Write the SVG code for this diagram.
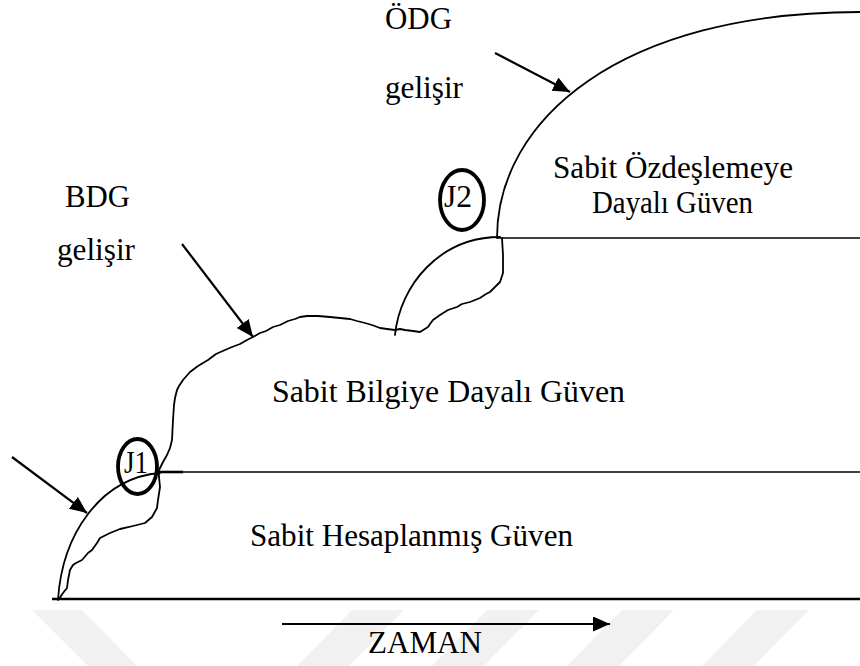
<svg xmlns="http://www.w3.org/2000/svg" width="860" height="666" viewBox="0 0 860 666">
  <defs>
    <marker id="head" markerUnits="userSpaceOnUse" markerWidth="18" markerHeight="16" refX="17" refY="7.5" orient="auto">
      <path d="M0,0 L17,7.5 L0,15 Z" fill="#000"/>
    </marker>
    <style>
      .ln { fill: none; stroke: #000; stroke-width: 1.8; stroke-linejoin: round; stroke-linecap: round; }
      .thin { fill: none; stroke: #000; stroke-width: 1.6; stroke-linecap: butt; }
      .ring { fill: none; stroke: #000; stroke-width: 3.8; }
      .arrow { fill: none; stroke: #000; stroke-width: 2.2; marker-end: url(#head); }
      .wm { fill: #f1f1f1; }
    </style>
  </defs>

  <rect width="860" height="666" fill="#fff"/>

  <!-- faint background stripes along the bottom edge -->
  <g id="watermark">
    <polygon class="wm" points="32,610 82,610 137,666 88,666"/>
    <polygon class="wm" points="352,610 404,610 349,666 297,666"/>
    <polygon class="wm" points="487,610 539,610 484,666 432,666"/>
    <polygon class="wm" points="622,610 674,610 619,666 567,666"/>
    <polygon class="wm" points="757,610 809,610 754,666 702,666"/>
  </g>

  <!-- time axis and level lines -->
  <g id="axis">
    <line x1="52" y1="599" x2="860" y2="599" stroke="#000" stroke-width="2.4"/>
    <line class="thin" x1="157" y1="472" x2="860" y2="472"/>
    <line x1="157" y1="472" x2="183" y2="472" stroke="#000" stroke-width="2.6"/>
    <line class="thin" x1="497" y1="238" x2="860" y2="238"/>
  </g>

  <g font-family="Liberation Serif, DejaVu Serif, serif" font-size="32" fill="#000">
  <!-- calculus-based trust: smooth arc from the origin up to J1 -->
  <g id="calculus-trust">
    <path class="ln" d="M58,600 C62,535 100,478 160,473"/>
    <text x="250" y="546" textLength="323" lengthAdjust="spacingAndGlyphs">Sabit Hesaplanmış Güven</text>
  </g>

  <!-- knowledge-based trust: irregular growth line -->
  <g id="knowledge-trust">
    <path class="ln" d="M502,238 L503,255 L503,273 L500,282 L495,287 L490,292 L486,294 L480,298 L470,302 L462,304 L457,307 L448,310 L440,315 L433,320 L430,324 L428,327 L420,332 L413,331 L405,330 L400,329 L395,330 L387,329 L380,328 L372,325 L365,323 L357,321 L350,319 L340,318 L330,317 L318,316 L307,316 L300,317 L295,319 L288,321 L280,325 L273,327 L266,331 L260,333 L253,337 L247,340 L240,344 L232,347 L225,350 L216,354 L208,360 L198,366 L190,372 L183,380 L179,386 L177,390 L175,398 L174,405 L173,420 L172,440 L170,448 L167,455 L163,462 L159,470 L159,477 L160,487 L158,500 L157,508 L152,517 L145,523 L133,526 L120,529 L110,533 L100,538 L97,543 L92,550 L88,553 L82,560 L76,563 L73,565 L70,570 L68,580 L67,588 L63,593 L59,599"/>
    <text x="272" y="402" textLength="353" lengthAdjust="spacingAndGlyphs">Sabit Bilgiye Dayalı Güven</text>
  </g>

  <!-- J2 transition arc -->
  <g id="j2-arc">
    <path class="ln" d="M395,335 C400,285 440,237 500,237"/>
  </g>

  <!-- identification-based trust: large dome -->
  <g id="identification-trust">
    <path class="ln" d="M497,238 C497,120 620,12 860,12"/>
    <text x="553" y="178" textLength="240" lengthAdjust="spacingAndGlyphs">Sabit Özdeşlemeye</text>
    <text x="592" y="213" textLength="161" lengthAdjust="spacingAndGlyphs">Dayalı Güven</text>
  </g>

  <!-- junction markers -->
  <g id="j1">
    <ellipse class="ring" cx="137.5" cy="466.5" rx="19.5" ry="27.5"/>
    <text x="124" y="473" textLength="24" lengthAdjust="spacingAndGlyphs">J1</text>
  </g>
  <g id="j2">
    <ellipse class="ring" cx="462" cy="200" rx="22" ry="30"/>
    <text x="444" y="207" textLength="28" lengthAdjust="spacingAndGlyphs">J2</text>
  </g>

  <!-- annotations -->
  <g id="label-bdg">
    <text x="65" y="207" textLength="65" lengthAdjust="spacingAndGlyphs">BDG</text>
    <text x="57" y="260" textLength="78" lengthAdjust="spacingAndGlyphs">gelişir</text>
  </g>
  <g id="label-odg">
    <text x="385" y="29" textLength="67" lengthAdjust="spacingAndGlyphs">ÖDG</text>
    <text x="385" y="98" textLength="78" lengthAdjust="spacingAndGlyphs">gelişir</text>
  </g>
  <g id="label-time">
    <text x="368" y="653" textLength="114" lengthAdjust="spacingAndGlyphs">ZAMAN</text>
  </g>
  </g>

  <!-- pointer arrows -->
  <g id="connectors">
    <line class="arrow" x1="12" y1="457" x2="87" y2="513"/>
    <line class="arrow" x1="182" y1="244" x2="253" y2="337"/>
    <line class="arrow" x1="495" y1="53" x2="570" y2="92"/>
    <line class="arrow" x1="282" y1="624" x2="610" y2="624" stroke-width="2.6"/>
  </g>
</svg>
